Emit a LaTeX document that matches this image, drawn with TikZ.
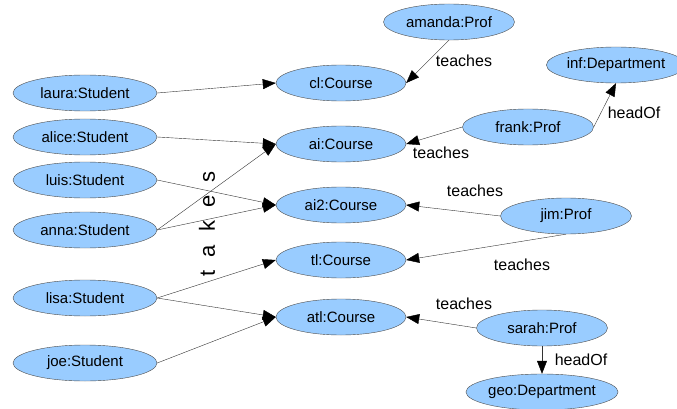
\documentclass[tikz,border=0pt]{standalone}
\usepackage{fontspec}
\setmainfont{Liberation Sans}
\usepackage{tikz}
\usetikzlibrary{
    shapes.geometric,
    arrows.meta,
    positioning
}
\definecolor{nodeblue}{RGB}{153,204,255}
\newcommand{\nodefont}{\fontsize{15}{18}\selectfont}
\newcommand{\labelfont}{\fontsize{16}{19}\selectfont}
\tikzset{
    entity/.style={ellipse, draw=black!70, fill=nodeblue, minimum height=36pt, inner sep=0pt, font=\nodefont},
    student/.style={entity, minimum width=144pt},
    course/.style={entity, minimum width=130pt},
    prof/.style={entity, minimum width=131pt},
    dept/.style={entity, minimum width=124pt},
    rel/.style={font=\labelfont, inner sep=0pt}
}

\begin{document}
\begin{tikzpicture}[x=1pt, y=-1pt, >={Triangle[length=13pt,width=10pt,color=black]}, every edge/.style={draw=black!80}]
    \useasboundingbox (0, 0) rectangle (677, 409);

    \node[student] (laura) at (85, 93) {laura:Student};
    \node[student] (alice) at (85, 137) {alice:Student};
    \node[student] (luis) at (85, 180) {luis:Student};
    \node[student] (anna) at (85, 230) {anna:Student};
    \node[student] (lisa) at (85, 298) {lisa:Student};
    \node[student] (joe) at (85, 363) {joe:Student};

    \node[course] (cl) at (341, 83) {cl:Course};
    \node[course] (ai) at (341, 144) {ai:Course};
    \node[course] (aitwo) at (341, 205) {ai2:Course};
    \node[course] (tl) at (341, 260) {tl:Course};
    \node[course] (atl) at (341, 317) {atl:Course};

    \node[prof] (amanda) at (449, 22) {amanda:Prof};
    \node[prof] (frank) at (528, 127) {frank:Prof};
    \node[prof] (jim) at (566, 216) {jim:Prof};
    \node[prof] (sarah) at (542, 328) {sarah:Prof};
    \node[dept] (inf) at (616, 65) {inf:Department};
    \node[dept] (geo) at (542, 392) {geo:Department};

    \draw
    (laura.east) edge[->] (cl.west)
    (alice.east) edge[->] (ai.west)
    (luis.east) edge[->] (aitwo.west)
    (anna.east) edge[->] (ai.west)
    (anna.east) edge[->] (aitwo.west)
    (lisa.east) edge[->] (tl.west)
    (lisa.east) edge[->] (atl.west)
    (joe.east) edge[->] (atl.west);

    \draw
    (amanda.south) edge[->] (cl.east)
    (frank.west) edge[->] (ai.east)
    (frank.east) edge[->] (inf.south)
    (jim.west) edge[->] (aitwo.east)
    (jim.south) edge[->] (tl.east)
    (sarah.west) edge[->] (atl.east)
    (sarah.south) edge[->] (geo.north);

    \node[rel] (tamanda) at (464, 61) {teaches};
    \node[rel] (tfrank) at (441, 153) {teaches};
    \node[rel] (hfrank) at (634, 113) {headOf};
    \node[rel] (tjimai) at (475, 191) {teaches};
    \node[rel] (tjimtl) at (522, 265) {teaches};
    \node[rel] (tsarah) at (464, 304) {teaches};
    \node[rel] (hsarah) at (581, 360) {headOf};
    \node[rel, rotate=90, font=\fontsize{22}{26}\selectfont] (takes) at (207, 224) {t\hspace{13pt}a\hspace{13pt}k\hspace{13pt}e\hspace{13pt}s};
\end{tikzpicture}
\end{document}
